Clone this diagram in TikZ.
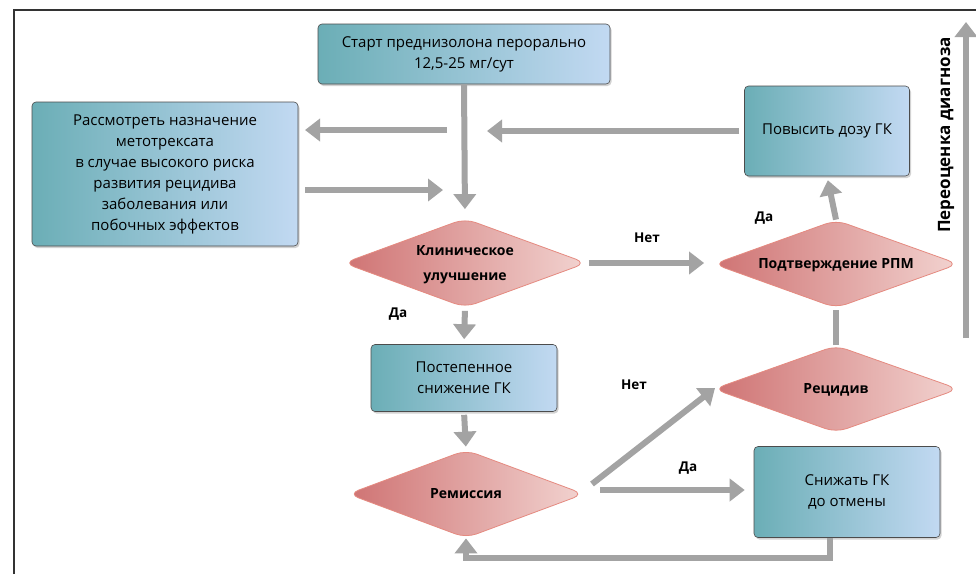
\documentclass[tikz,border=0pt]{standalone}
\usepackage{fontspec}
\setmainfont{Open Sans}
\usetikzlibrary{shapes.geometric,arrows.meta,shadows}
\definecolor{tealL}{HTML}{6BAEB6}
\definecolor{blueR}{HTML}{C2D9F2}
\definecolor{redL}{HTML}{CF7373}
\definecolor{redR}{HTML}{F2D3D0}
\definecolor{redB}{HTML}{E58A80}
\definecolor{arr}{HTML}{A3A3A3}
\definecolor{frame}{HTML}{333333}
\newcommand\dtext[1]{\raisebox{-7pt}{\smash{\makebox[0pt]{\begin{tabular}{@{}c@{}}#1\end{tabular}}}}}
\tikzset{
 box/.style={rectangle, rounded corners=4pt, draw=gray!60!black, line width=0.6pt, left color=tealL, right color=blueR, align=center, font=\fontsize{15}{21}\selectfont, drop shadow={opacity=0.35,shadow xshift=1.5pt,shadow yshift=-2pt}, inner sep=0pt},
 dia/.style={diamond, rounded corners=11pt, draw=redB, line width=0.8pt, left color=redL, right color=redR, font=\bfseries\fontsize{14}{25}\selectfont, inner sep=0pt},
 arrow/.style={draw=arr, line width=6pt, -{Triangle[width=22pt,length=15pt]}},
 plain/.style={draw=arr, line width=6pt},
 lbl/.style={font=\bfseries\fontsize{13.5}{18}\selectfont, inner sep=0pt},
}
\begin{document}
\begin{tikzpicture}[x=1pt,y=-1pt]
\useasboundingbox[fill=white] (0,0) rectangle (976,574);
\draw[frame, line width=1.2pt] (14,574) -- (14,10) -- (976,10);
% nodes
\node[box, minimum width=292pt, minimum height=60pt] (start) at (464,54) {Старт преднизолона перорально\\12,5-25 мг/сут};
\node[box, minimum width=266pt, minimum height=144pt] (left) at (165,174) {Рассмотреть назначение\\метотрексата\\в случае высокого риска\\развития рецидива\\заболевания или\\побочных эффектов};
\node[box, minimum width=165pt, minimum height=90pt] (pov) at (827,131) {Повысить дозу ГК};
\node[dia, minimum width=243pt, minimum height=89pt] (kl) at (465,263) {\dtext{Клиническое\\улучшение}};
\node[dia, minimum width=245pt, minimum height=88pt] (pod) at (836,264) {\dtext{Подтверждение РПМ}};
\node[box, minimum width=186pt, minimum height=67pt] (post) at (464,378) {Постепенное\\снижение ГК};
\node[dia, minimum width=245pt, minimum height=87pt] (rec) at (836,389) {\dtext{Рецидив}};
\node[dia, minimum width=236pt, minimum height=88pt] (rem) at (466,494) {\dtext{Ремиссия}};
\node[box, minimum width=186pt, minimum height=91pt] (sn) at (847,492) {Снижать ГК\\до отмены};
% free coordinates
\coordinate (l1) at (447,130);
\coordinate (l2) at (305,130);
\coordinate (r1) at (305,190);
\coordinate (r2) at (443,190);
\coordinate (d1) at (592,484);
\coordinate (d2) at (715,388);
\coordinate (h1) at (600,490);
\coordinate (v1) at (966,338);
\coordinate (v2) at (966,22);
% connectors
\draw[arrow, shorten >=9pt] (start.south) -- (kl.north);
\draw[arrow] (l1) -- (l2);
\draw[arrow] (r1) -- (r2);
\draw[arrow, shorten >=4pt] ([xshift=-5pt]pov.west) -- (pov.west -| 483,0);
\draw[arrow, shorten <=2pt, shorten >=9pt] (kl.east) -- (kl.east -| pod.west);
\draw[arrow, shorten <=3pt, shorten >=5pt] (kl.south) -- (post.north);
\draw[arrow, shorten <=3pt, shorten >=3pt] (post.south) -- (rem.north);
\draw[arrow] (d1) -- (d2);
\draw[arrow, shorten >=9pt] (h1) -- (h1 -| sn.west);
\draw[arrow] ([xshift=-17pt]sn.south) -- ++(0,20) -| (rem.south);
\draw[plain, shorten >=2pt] (rec.north) -- (pod.south);
\draw[arrow, shorten >=4pt] (pod.north) -- (pov.south);
\draw[arrow] (v1) -- (v2);
% labels
\node[lbl] (tnet1) at (647,238) {Нет};
\node[lbl] (tda1) at (398,314) {Да};
\node[lbl] (tda2) at (764,218) {Да};
\node[lbl] (tnet2) at (634,385) {Нет};
\node[lbl] (tda3) at (688,468) {Да};
\node[lbl, rotate=90, font=\bfseries\fontsize{17}{20}\selectfont] (tper) at (946,135) {Переоценка диагноза};
\end{tikzpicture}
\end{document}
